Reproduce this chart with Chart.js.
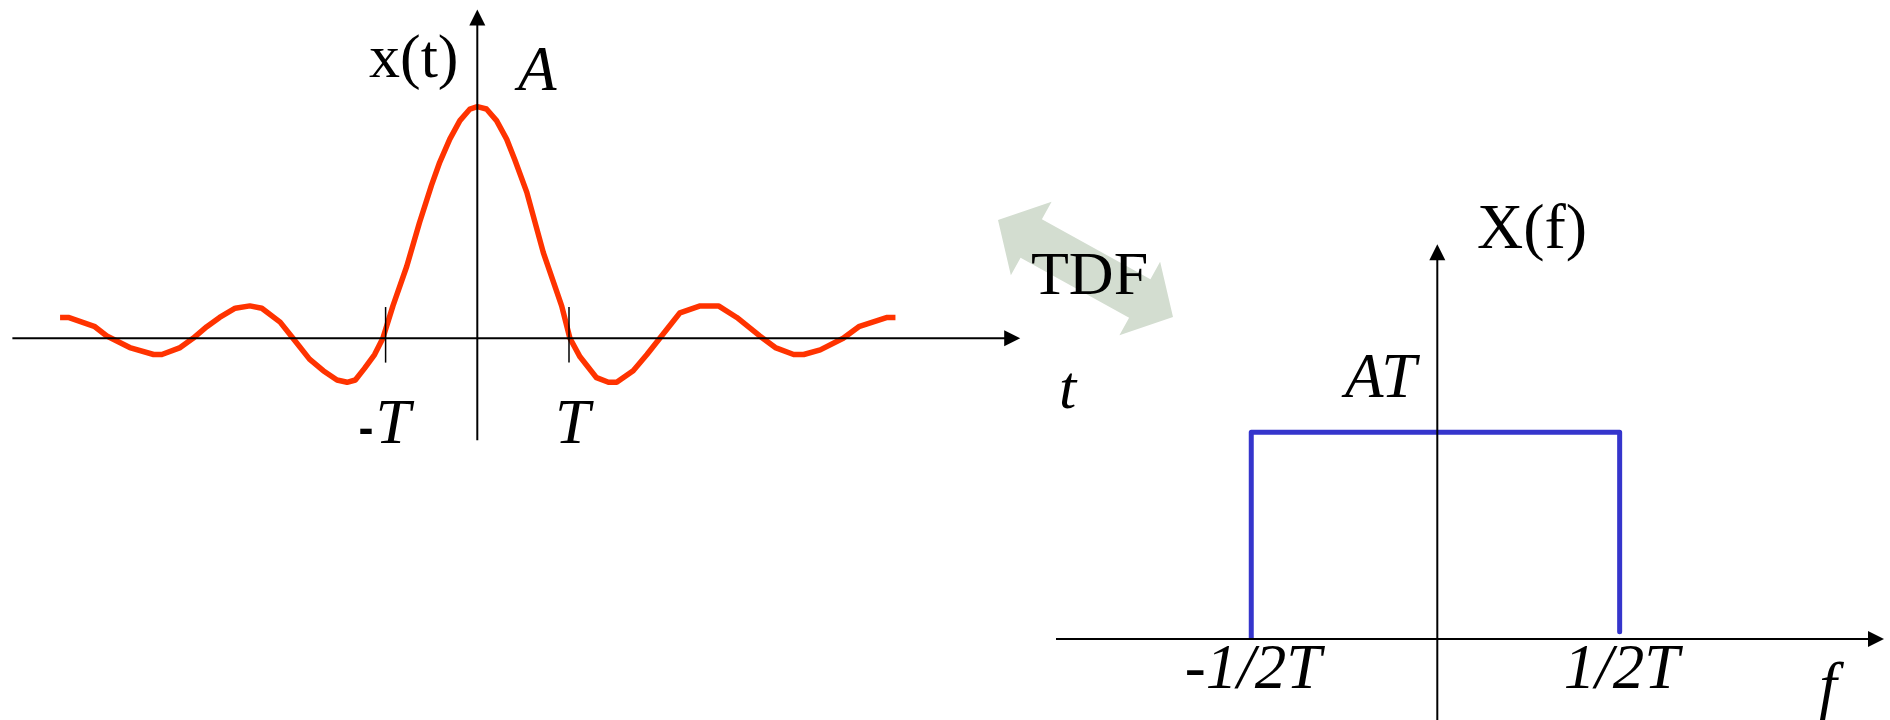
<!DOCTYPE html>
<html>
<head>
<meta charset="utf-8">
<title>x(t) / X(f)</title>
<script src="https://cdn.jsdelivr.net/npm/chart.js@4/dist/chart.umd.min.js"></script>
<style>
  html, body { margin: 0; padding: 0; background: #fff; }
  #wrap { width: 1890px; height: 720px; }
</style>
</head>
<body>
<div id="wrap"><canvas id="chart" width="1890" height="720"></canvas></div>
<script>
// x(t): t in units of T, x in units of A
const tValues = [-4.55, -4.46, -4.17, -4.04, -3.79, -3.53, -3.44, -3.24, -3.10, -2.95, -2.81, -2.64, -2.48, -2.35, -2.15, -2.01,
    -1.83, -1.68, -1.53, -1.42, -1.33, -1.23, -1.12, -1.03, -0.92, -0.77, -0.63, -0.50, -0.41, -0.30, -0.19, -0.08, 0,
    0.10, 0.21, 0.32, 0.41, 0.54, 0.72, 0.92, 1.01, 1.12, 1.30, 1.43, 1.52, 1.70, 1.85, 1.99,
    2.21, 2.43, 2.63, 2.83, 3.08, 3.25, 3.45, 3.56, 3.74, 3.99, 4.16, 4.47, 4.56]
const xValues = [0.09, 0.09, 0.05, 0.01, -0.04, -0.07, -0.07, -0.04, 0, 0.05, 0.09, 0.13, 0.14, 0.13, 0.07, 0,
    -0.09, -0.14, -0.18, -0.19, -0.18, -0.13, -0.07, 0, 0.14, 0.31, 0.50, 0.66, 0.76, 0.86, 0.94, 0.99, 1,
    0.99, 0.94, 0.86, 0.77, 0.63, 0.37, 0.14, 0, -0.08, -0.17, -0.19, -0.19, -0.14, -0.07, 0,
    0.11, 0.14, 0.14, 0.09, 0.01, -0.04, -0.07, -0.07, -0.05, 0, 0.05, 0.09, 0.09]

// X(f): f in units of 1/2T, X in units of AT
const fValues = [-1.01, -1.01, 0.99, 0.99]
const XValues = [0, 1, 1, 0.035]

const timeTicks = [-1, 1]
const timeTickLabels = ['-T', 'T']
const freqTicks = [-1, 1]
const freqTickLabels = ['-1/2T', '1/2T']

// where each plot sits on the page (pixels)
const W = 1890, H = 720
const left = { x0: 477.3, y0: 338.3, unitX: 91.7, unitY: 231.6 }
const right = { x0: 1437.3, y0: 639, unitX: 184.2, unitY: 206.7 }

// axis extents in data units
const leftAxisT = [-5.07, 5.92]
const leftAxisX = [-0.44, 1.42]
const rightAxisF = [-2.07, 2.425]
const rightAxisX = [-0.4, 1.91]

const serif = '"Liberation Serif", "Times New Roman", serif'
const ital = (px) => `italic ${px}px ${serif}`
const roman = (px) => `${px}px ${serif}`

const range = (p, unit, size) => ({ min: -p / unit, max: (size - p) / unit })
const lx = range(left.x0, left.unitX, W)
const ly = { min: -(H - left.y0) / left.unitY, max: left.y0 / left.unitY }
const rx = range(right.x0, right.unitX, W)
const ry = { min: -(H - right.y0) / right.unitY, max: right.y0 / right.unitY }

const line = (ctx, x1, y1, x2, y2, w) => {
    ctx.lineWidth = w
    ctx.beginPath()
    ctx.moveTo(x1, y1)
    ctx.lineTo(x2, y2)
    ctx.stroke()
}

const arrowHead = (ctx, x, y, dir) => {
    const len = 16, half = 8
    ctx.beginPath()
    if(dir === 'right') {
        ctx.moveTo(x, y); ctx.lineTo(x - len, y - half); ctx.lineTo(x - len, y + half)
    } else {
        ctx.moveTo(x, y); ctx.lineTo(x - half, y + len); ctx.lineTo(x + half, y + len)
    }
    ctx.closePath()
    ctx.fill()
}

const text = (ctx, str, x, y, font, align) => {
    ctx.font = font
    ctx.textAlign = align || 'left'
    ctx.textBaseline = 'alphabetic'
    ctx.fillText(str, x, y)
}

// the light double arrow between the two plots
const drawTransformArrow = (ctx) => {
    const p1 = { x: 998, y: 220 }, p2 = { x: 1173, y: 317 }
    const headLen = 38, headHalf = 42, shaftHalf = 22
    const dx = p2.x - p1.x, dy = p2.y - p1.y
    const l = Math.hypot(dx, dy)
    const u = { x: dx / l, y: dy / l }, n = { x: -u.y, y: u.x }
    const at = (p, a, b) => [p.x + u.x * a + n.x * b, p.y + u.y * a + n.y * b]
    const pts = [
        at(p1, 0, 0), at(p1, headLen, headHalf), at(p1, headLen, shaftHalf),
        at(p2, -headLen, shaftHalf), at(p2, -headLen, headHalf), at(p2, 0, 0),
        at(p2, -headLen, -headHalf), at(p2, -headLen, -shaftHalf),
        at(p1, headLen, -shaftHalf), at(p1, headLen, -headHalf)
    ]
    ctx.fillStyle = '#d3ddd0'
    ctx.beginPath()
    pts.forEach(([x, y], i) => i ? ctx.lineTo(x, y) : ctx.moveTo(x, y))
    ctx.closePath()
    ctx.fill()
    ctx.fillStyle = '#000'
    text(ctx, 'TDF', 1031, 294, roman(62))
}

const sketchAxes = {
    id: 'sketchAxes',
    beforeDatasetsDraw(chart) {
        const { ctx } = chart
        ctx.save()
        drawTransformArrow(ctx)
        ctx.restore()
    },
    afterDatasetsDraw(chart) {
        const { ctx, scales } = chart
        const xl = scales.xLeft, yl = scales.yLeft, xr = scales.xRight, yr = scales.yRight
        ctx.save()
        ctx.strokeStyle = '#000'
        ctx.fillStyle = '#000'

        // time plot axes
        const oy = yl.getPixelForValue(0), ox = xl.getPixelForValue(0)
        const tEnd = xl.getPixelForValue(leftAxisT[1])
        line(ctx, xl.getPixelForValue(leftAxisT[0]), oy, tEnd - 10, oy, 2)
        arrowHead(ctx, tEnd, oy, 'right')
        const xTop = yl.getPixelForValue(leftAxisX[1])
        line(ctx, ox, yl.getPixelForValue(leftAxisX[0]), ox, xTop + 10, 2)
        arrowHead(ctx, ox, xTop, 'up')

        timeTicks.forEach((t, i) => {
            const px = xl.getPixelForValue(t)
            line(ctx, px, yl.getPixelForValue(0.135), px, yl.getPixelForValue(-0.105), 1.5)
            const label = timeTickLabels[i]
            const base = 443
            if(label.startsWith('-')) {
                text(ctx, '-', px - 27, base, 'bold 45px "Liberation Sans", Arial, sans-serif')
                text(ctx, label.slice(1), px - 10, base, ital(63))
            } else {
                text(ctx, label, px - 14, base, ital(63))
            }
        })
        text(ctx, 'x(t)', 369, 77, roman(62))
        text(ctx, 'A', 518, 90, ital(63))
        text(ctx, 't', 1059, 408, ital(62))

        // frequency plot axes
        const fy = yr.getPixelForValue(0), fx = xr.getPixelForValue(0)
        const fEnd = xr.getPixelForValue(rightAxisF[1])
        line(ctx, xr.getPixelForValue(rightAxisF[0]), fy, fEnd - 10, fy, 2)
        arrowHead(ctx, fEnd, fy, 'right')
        const fTop = yr.getPixelForValue(rightAxisX[1])
        line(ctx, fx, yr.getPixelForValue(rightAxisX[0]), fx, fTop + 10, 2)
        arrowHead(ctx, fx, fTop, 'up')

        freqTicks.forEach((f, i) => {
            text(ctx, freqTickLabels[i], xr.getPixelForValue(f), 688, ital(63), 'center')
        })
        text(ctx, 'X(f)', 1477, 248, roman(64))
        text(ctx, 'AT', 1345, 397, ital(63))
        text(ctx, 'f', 1828, 706, ital(63), 'center')
        ctx.restore()
    }
}

new Chart(document.getElementById('chart').getContext('2d'), {
    type: 'scatter',
    data: {
        datasets: [
            {
                label: 'x(t)',
                data: tValues.map((t, i) => ({ x: t, y: xValues[i] })),
                xAxisID: 'xLeft',
                yAxisID: 'yLeft',
                showLine: true,
                borderColor: '#ff3300',
                borderWidth: 5.5,
                borderJoinStyle: 'round',
                tension: 0,
                pointRadius: 0,
                fill: false
            },
            {
                label: 'X(f)',
                data: fValues.map((f, i) => ({ x: f, y: XValues[i] })),
                xAxisID: 'xRight',
                yAxisID: 'yRight',
                showLine: true,
                borderColor: '#3535cc',
                borderWidth: 5,
                borderJoinStyle: 'round',
                tension: 0,
                pointRadius: 0,
                fill: false
            }
        ]
    },
    options: {
        responsive: false,
        animation: false,
        devicePixelRatio: 1,
        layout: { padding: 0 },
        plugins: { legend: { display: false }, tooltip: { enabled: false }, title: { display: false } },
        scales: {
            xLeft: { type: 'linear', display: false, min: lx.min, max: lx.max },
            yLeft: { type: 'linear', display: false, min: ly.min, max: ly.max },
            xRight: { type: 'linear', display: false, min: rx.min, max: rx.max },
            yRight: { type: 'linear', display: false, min: ry.min, max: ry.max }
        }
    },
    plugins: [sketchAxes]
})
</script>
</body>
</html>
